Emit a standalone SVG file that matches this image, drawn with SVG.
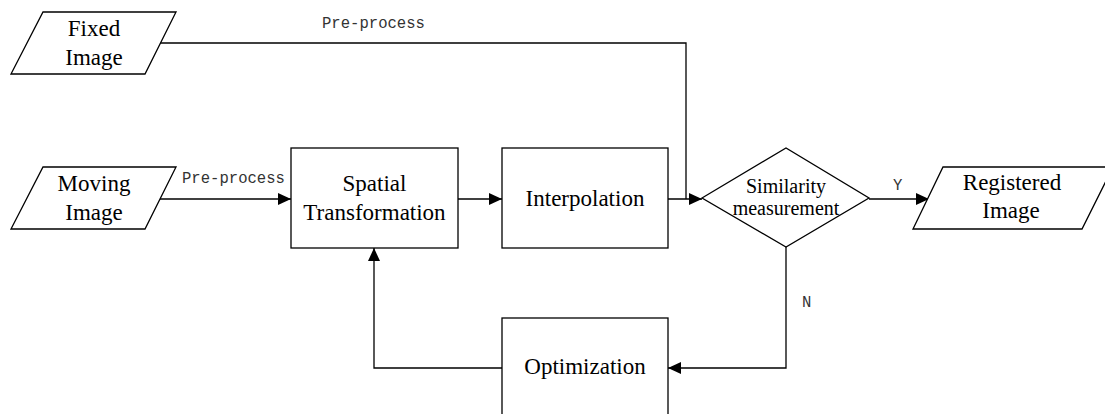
<svg xmlns="http://www.w3.org/2000/svg" width="1105" height="414" viewBox="0 0 1105 414">
<style>
.shape{fill:#fff;stroke:#000;stroke-width:1.3}
.t{font-family:"Liberation Serif","Times New Roman",serif;font-size:23px;fill:#000;text-anchor:middle}
.ts{font-family:"Liberation Serif","Times New Roman",serif;font-size:20px;fill:#000;text-anchor:middle}
.lbl{font-family:"Liberation Mono","Courier New",monospace;font-size:15.6px;fill:#333}
.c{fill:none;stroke:#000;stroke-width:1.3}
</style>
<defs>
<marker id="arr" markerUnits="userSpaceOnUse" markerWidth="13" markerHeight="12" refX="13" refY="6" orient="auto">
<path d="M0,0 L13,6 L0,12 z" fill="#000"/>
</marker>
</defs>
<rect width="1105" height="414" fill="#fff"/>
<g id="connectors">
<path class="c" d="M160,43 H686 V199"/>
<path class="c" d="M160,199 H291" marker-end="url(#arr)"/>
<path class="c" d="M458,199 H502" marker-end="url(#arr)"/>
<path class="c" d="M668,199 H702" marker-end="url(#arr)"/>
<path class="c" d="M869,199 H929" marker-end="url(#arr)"/>
<path class="c" d="M786,247 V368 H668" marker-end="url(#arr)"/>
<path class="c" d="M502,368 H374 V248" marker-end="url(#arr)"/>
<text class="lbl" x="322" y="28">Pre-process</text>
<text class="lbl" x="182" y="183">Pre-process</text>
<text class="lbl" x="893" y="190">Y</text>
<text class="lbl" x="802" y="307">N</text>
</g>
<g id="fixed">
<polygon class="shape" points="43,12 176,12 145,74 11,74"/>
<text class="t" x="94" y="36">Fixed</text>
<text class="t" x="94" y="65">Image</text>
</g>
<g id="moving">
<polygon class="shape" points="43,167 176,167 145,229 11,229"/>
<text class="t" x="94" y="191">Moving</text>
<text class="t" x="94" y="220">Image</text>
</g>
<g id="spatial">
<rect class="shape" x="291" y="148" width="167" height="100"/>
<text class="t" x="374.5" y="191">Spatial</text>
<text class="t" x="374.5" y="220">Transformation</text>
</g>
<g id="interpolation">
<rect class="shape" x="502" y="148" width="166" height="100"/>
<text class="t" x="585" y="206">Interpolation</text>
</g>
<g id="similarity">
<polygon class="shape" points="702,198 786,148 869,198 786,247"/>
<text class="ts" x="786" y="193">Similarity</text>
<text class="ts" x="786" y="215">measurement</text>
</g>
<g id="registered">
<polygon class="shape" points="943,167 1113,167 1082,229 913,229"/>
<text class="t" x="1012" y="190">Registered</text>
<text class="t" x="1011" y="218">Image</text>
</g>
<g id="optimization">
<rect class="shape" x="502" y="318" width="166" height="110"/>
<text class="t" x="585" y="374">Optimization</text>
</g>
</svg>
